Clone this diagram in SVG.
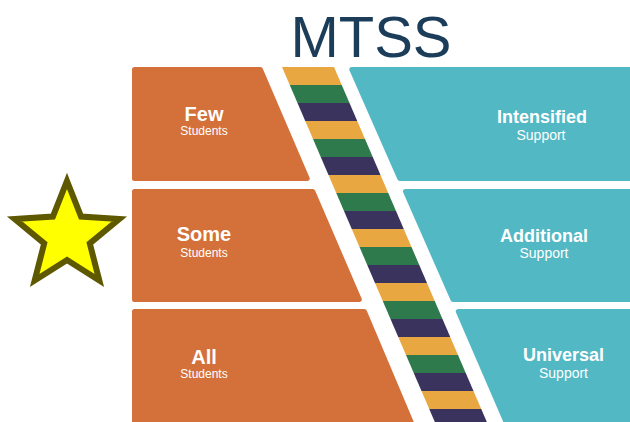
<svg xmlns="http://www.w3.org/2000/svg" width="630" height="422" viewBox="0 0 630 422">
  <defs>
    <style>
      .tier { fill: #d4703a; stroke: #d4703a; stroke-width: 5; stroke-linejoin: round; }
      .sup { fill: #52b8c4; stroke: #52b8c4; stroke-width: 5; stroke-linejoin: round; }
      .head { font-family: "Liberation Sans", Arial, sans-serif; font-weight: bold; fill: #ffffff; text-anchor: middle; }
      .sub { font-family: "Liberation Sans", Arial, sans-serif; fill: #ffffff; text-anchor: middle; }
      .y { fill: #e8a740; }
      .g { fill: #2f7a4d; }
      .n { fill: #39335d; }
    </style>
    <clipPath id="bandClip">
      <path d="M282,67 L334,67 L489,427 L437,427 Z"/>
    </clipPath>
  </defs>

  <rect width="630" height="422" fill="#ffffff"/>

  <text x="371" y="57" font-family="Liberation Sans, Arial, sans-serif" font-size="58" fill="#1c3d5a" text-anchor="middle">MTSS</text>

  <!-- student tiers -->
  <g id="few">
    <path class="tier" d="M134.5,69.5 L260.4,69.5 L307.2,178.5 L134.5,178.5 Z"/>
    <text class="head" x="204" y="121" font-size="20">Few</text>
    <text class="sub" x="204" y="135" font-size="12">Students</text>
  </g>
  <g id="some">
    <path class="tier" d="M134.5,191.5 L312.8,191.5 L359.3,299.5 L134.5,299.5 Z"/>
    <text class="head" x="204" y="241" font-size="20">Some</text>
    <text class="sub" x="204" y="257" font-size="12">Students</text>
  </g>
  <g id="all">
    <path class="tier" d="M134.5,311.5 L364.4,311.5 L412.8,426 L134.5,426 Z"/>
    <text class="head" x="204" y="364" font-size="20">All</text>
    <text class="sub" x="204" y="378" font-size="12">Students</text>
  </g>

  <!-- striped divider -->
  <g id="divider" clip-path="url(#bandClip)">
    <rect class="y" x="270" y="67" width="230" height="18"/>
    <rect class="g" x="270" y="85" width="230" height="18"/>
    <rect class="n" x="270" y="103" width="230" height="18"/>
    <rect class="y" x="270" y="121" width="230" height="18"/>
    <rect class="g" x="270" y="139" width="230" height="18"/>
    <rect class="n" x="270" y="157" width="230" height="18"/>
    <rect class="y" x="270" y="175" width="230" height="18"/>
    <rect class="g" x="270" y="193" width="230" height="18"/>
    <rect class="n" x="270" y="211" width="230" height="18"/>
    <rect class="y" x="270" y="229" width="230" height="18"/>
    <rect class="g" x="270" y="247" width="230" height="18"/>
    <rect class="n" x="270" y="265" width="230" height="18"/>
    <rect class="y" x="270" y="283" width="230" height="18"/>
    <rect class="g" x="270" y="301" width="230" height="18"/>
    <rect class="n" x="270" y="319" width="230" height="18"/>
    <rect class="y" x="270" y="337" width="230" height="18"/>
    <rect class="g" x="270" y="355" width="230" height="18"/>
    <rect class="n" x="270" y="373" width="230" height="18"/>
    <rect class="y" x="270" y="391" width="230" height="18"/>
    <rect class="n" x="270" y="409" width="230" height="18"/>
  </g>

  <!-- support tiers -->
  <g id="intensified">
    <path class="sup" d="M351.8,69.5 L640,69.5 L640,178.5 L399.8,178.5 Z"/>
    <text class="head" x="542" y="123" font-size="18">Intensified</text>
    <text class="sub" x="541" y="140" font-size="14">Support</text>
  </g>
  <g id="additional">
    <path class="sup" d="M405.5,191.5 L640,191.5 L640,299.5 L453,299.5 Z"/>
    <text class="head" x="544" y="242" font-size="18">Additional</text>
    <text class="sub" x="544" y="258" font-size="14">Support</text>
  </g>
  <g id="universal">
    <path class="sup" d="M458.3,311.5 L640,311.5 L640,426 L507.8,426 Z"/>
    <text class="head" x="563.5" y="361" font-size="18">Universal</text>
    <text class="sub" x="563.5" y="378" font-size="14">Support</text>
  </g>

  <!-- star marker -->
  <g id="star">
    <path d="M67,181 L81.1,216.6 L119.3,219 L89.8,243.4 L99.3,280.5 L67,260 L34.7,280.5 L44.2,243.4 L14.7,219 L52.9,216.6 Z" fill="#ffff00" stroke="#5e5800" stroke-width="6"/>
  </g>
</svg>
